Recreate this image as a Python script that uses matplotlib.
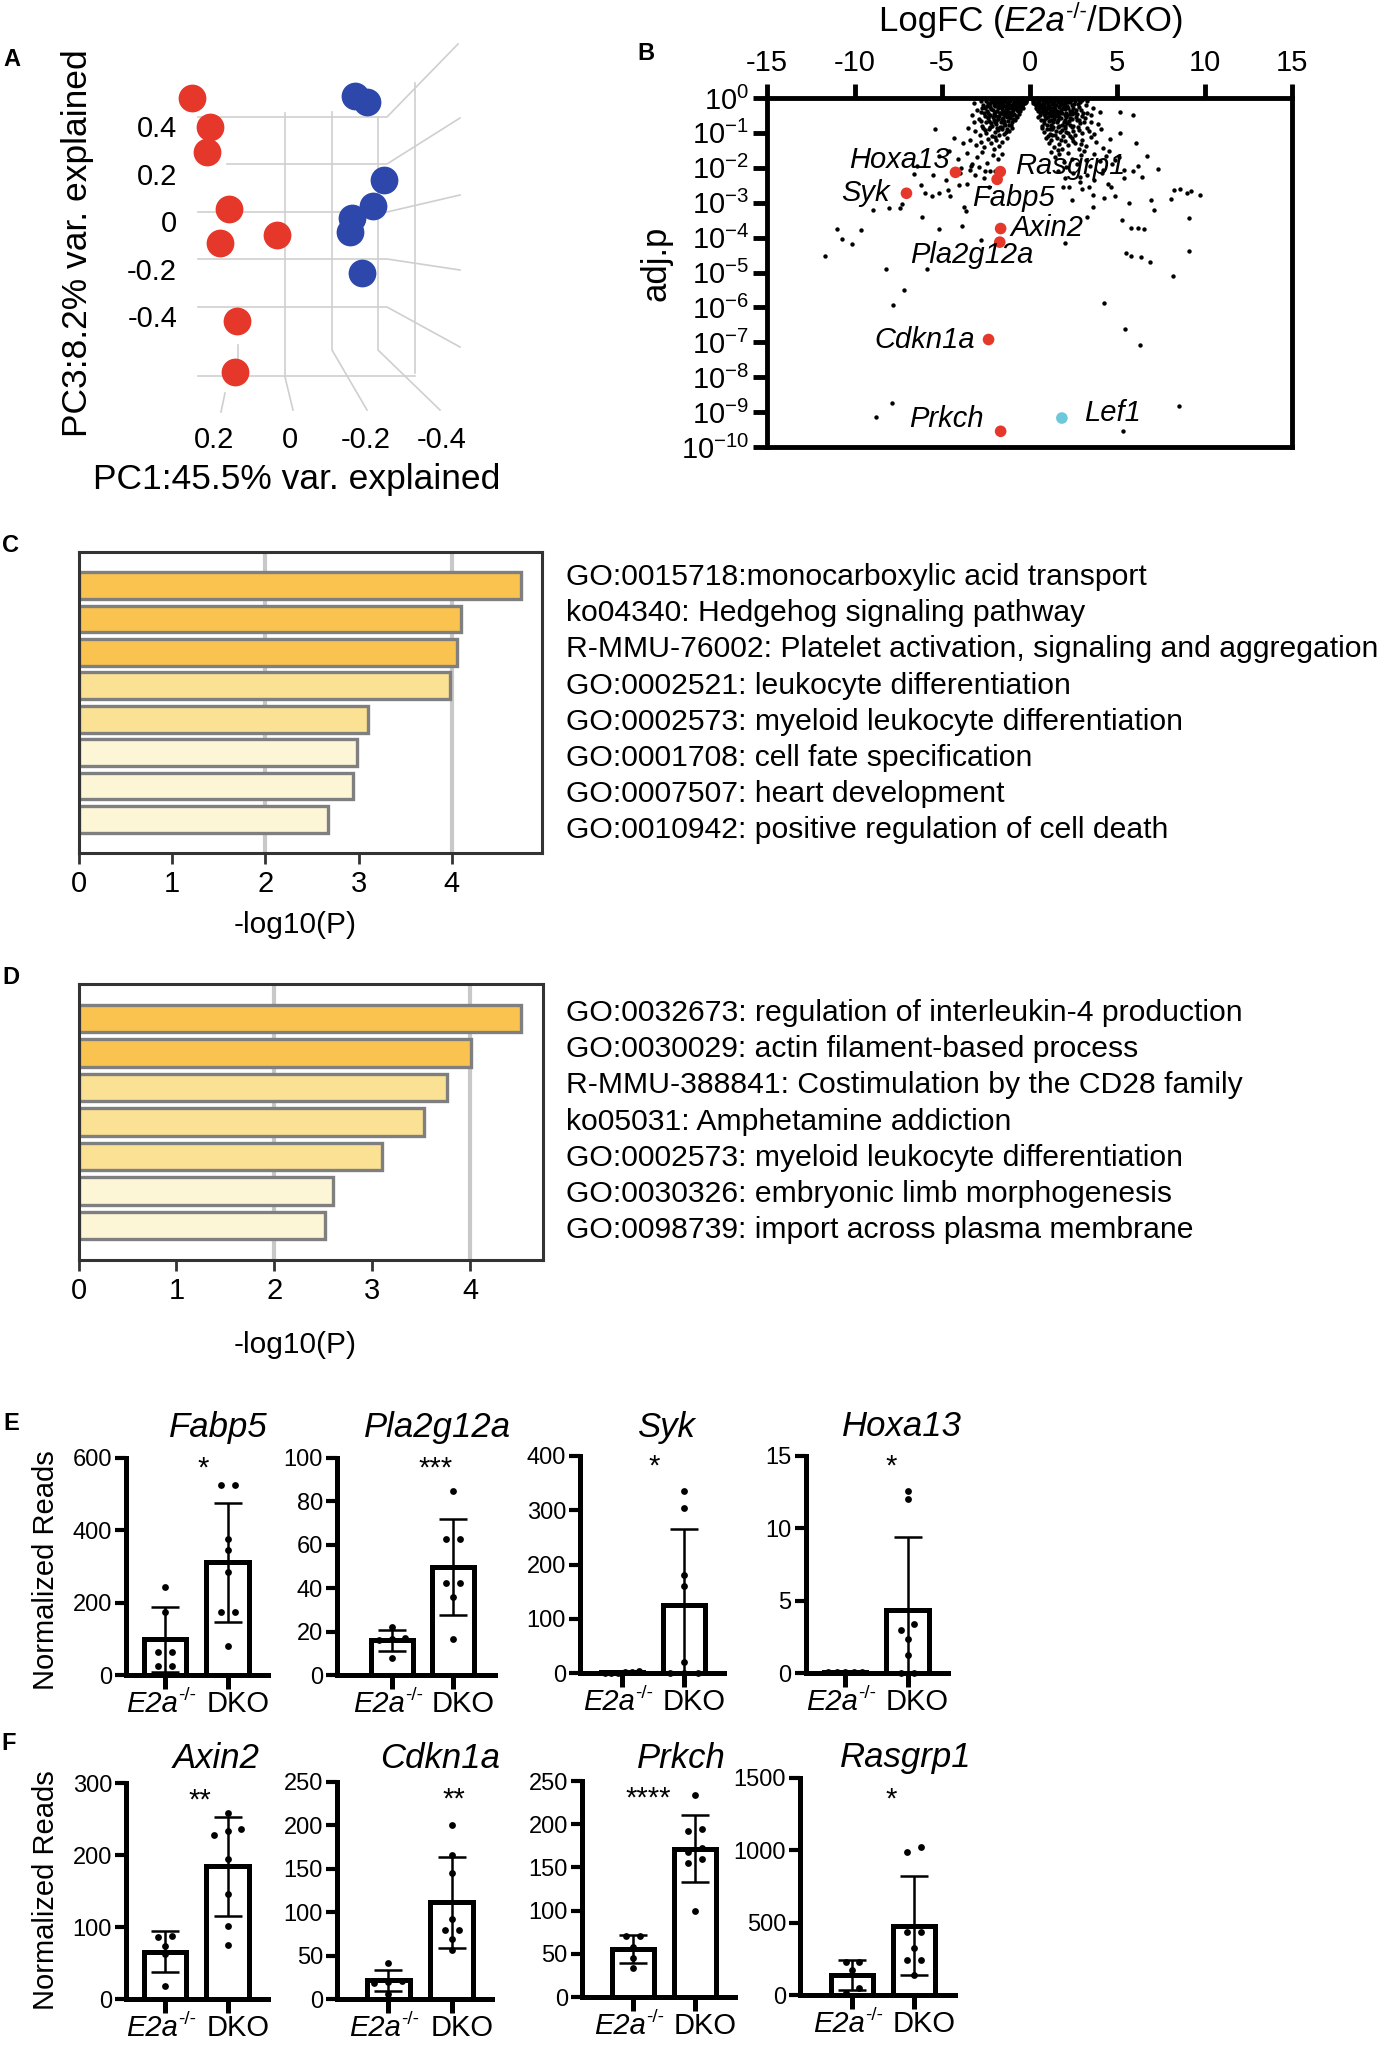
#!/usr/bin/env python3
import numpy as np
import matplotlib
matplotlib.use('Agg')
import matplotlib.pyplot as plt
from matplotlib.ticker import NullLocator

plt.rcParams['font.family'] = ['Liberation Sans', 'DejaVu Sans']
plt.rcParams['mathtext.fontset'] = 'custom'
plt.rcParams['mathtext.rm'] = 'Liberation Sans'
plt.rcParams['mathtext.it'] = 'Liberation Sans:italic'
plt.rcParams['mathtext.bf'] = 'Liberation Sans:bold'
plt.rcParams['axes.unicode_minus'] = False

# ---------------- data ----------------
# A: PCA scores
pc1_red = [0.258, 0.212, 0.220, 0.162, 0.185, 0.036, 0.140, 0.146]
pc3_red = [0.519, 0.397, 0.294, 0.053, -0.089, -0.057, -0.419, -0.635]
pc1_blue = [-0.170, -0.201, -0.246, -0.219, -0.162, -0.157, -0.188]
pc3_blue = [0.528, 0.504, 0.175, 0.065, 0.013, -0.043, -0.218]

# B: volcano, highlighted genes (logFC, log10 adj.p)
vol_genes = ['Hoxa13', 'Rasgrp1', 'Fabp5', 'Syk', 'Axin2', 'Pla2g12a', 'Cdkn1a', 'Prkch', 'Lef1']
vol_gene_lfc = [-4.23, -1.67, -1.85, -7.03, -1.65, -1.70, -2.34, -1.65, 1.85]
vol_gene_logp = [-2.13, -2.11, -2.33, -2.73, -3.74, -4.13, -6.92, -9.55, -9.17]

# B: all other genes (logFC, log10 adj.p)
bg_points = [
    # left cloud
    (-0.15, -0.02), (-0.3, -0.05), (-0.45, -0.01), (-0.6, -0.08), (-0.75, -0.03), (-0.9, -0.12),
    (-1.05, -0.04), (-1.2, -0.09), (-1.35, -0.02), (-1.5, -0.14), (-1.65, -0.06), (-1.8, -0.18),
    (-1.95, -0.03), (-2.1, -0.11), (-2.3, -0.2), (-0.25, -0.15), (-0.5, -0.2), (-0.7, -0.18),
    (-0.85, -0.24), (-1.1, -0.2), (-1.3, -0.25), (-1.55, -0.22), (-1.75, -0.1), (-2.0, -0.24),
    (-2.5, -0.08), (-0.4, -0.3), (-0.55, -0.38), (-0.72, -0.33), (-0.88, -0.45), (-1.0, -0.3),
    (-1.15, -0.41), (-1.28, -0.35), (-1.42, -0.48), (-1.58, -0.32), (-1.7, -0.44), (-1.85, -0.36),
    (-2.02, -0.47), (-2.18, -0.31), (-2.35, -0.42), (-2.55, -0.29), (-2.8, -0.4), (-0.98, -0.48),
    (-1.62, -0.27), (-2.25, -0.5), (-3.0, -0.35), (-0.7, -0.55), (-0.85, -0.62), (-1.0, -0.7),
    (-1.12, -0.58), (-1.25, -0.66), (-1.38, -0.78), (-1.5, -0.56), (-1.63, -0.7), (-1.78, -0.6),
    (-1.9, -0.75), (-2.05, -0.63), (-2.2, -0.72), (-2.35, -0.57), (-2.5, -0.68), (-2.7, -0.79),
    (-2.9, -0.6), (-3.2, -0.7), (-1.45, -0.65), (-2.12, -0.8), (-1.2, -0.76), (-1.0, -0.85),
    (-1.15, -0.95), (-1.3, -0.88), (-1.48, -1.02), (-1.6, -0.9), (-1.75, -1.05), (-1.88, -0.86),
    (-2.0, -0.98), (-2.15, -1.08), (-2.3, -0.9), (-2.48, -1.0), (-2.65, -0.87), (-2.85, -1.06),
    (-3.1, -0.95), (-3.5, -0.85), (-1.68, -0.82), (-1.3, -1.15), (-1.55, -1.25), (-1.72, -1.38),
    (-1.9, -1.2), (-2.05, -1.45), (-2.2, -1.3), (-2.4, -1.18), (-2.6, -1.4), (-2.8, -1.25),
    (-3.05, -1.35), (-3.4, -1.2), (-3.8, -1.3), (-4.3, -1.15), (-2.0, -1.12), (-1.55, -1.6),
    (-1.8, -1.75), (-2.1, -1.62), (-2.45, -1.85), (-2.7, -1.55), (-3.0, -1.7), (-3.3, -1.9),
    (-3.6, -1.58), (-4.1, -1.75), (-4.6, -1.52), (-5.2, -1.65), (-2.9, -1.98), (-3.9, -2.0),
    (-2.0, -2.1), (-2.6, -2.3), (-3.1, -2.2), (-3.6, -2.45), (-4.0, -2.15), (-4.8, -2.35),
    (-5.5, -2.2), (-6.2, -2.5), (-2.3, -2.55), (-3.4, -2.05),
    (-0.2, -0.08), (-0.35, -0.1), (-0.5, -0.04), (-0.65, -0.14), (-0.8, -0.07), (-0.95, -0.18),
    (-1.1, -0.1), (-1.25, -0.14), (-1.4, -0.08), (-1.55, -0.02), (-1.7, -0.15), (-1.85, -0.05),
    (-2.0, -0.13), (-2.2, -0.06), (-2.4, -0.13), (-2.65, -0.2), (-0.28, -0.02), (-0.42, -0.22),
    (-0.62, -0.27), (-0.78, -0.12), (-0.92, -0.35), (-1.08, -0.27), (-1.22, -0.45), (-1.36, -0.3),
    (-1.5, -0.38), (-1.66, -0.42), (-1.8, -0.28), (-1.95, -0.4), (-2.1, -0.35), (-2.28, -0.26),
    (-2.45, -0.36), (-2.62, -0.44), (-0.6, -0.45), (-0.8, -0.52), (-0.95, -0.6), (-1.1, -0.5),
    (-1.3, -0.55), (-1.45, -0.72), (-1.6, -0.6), (-1.75, -0.52), (-1.9, -0.66), (-2.1, -0.55),
    (-2.3, -0.65), (-2.55, -0.52), (-2.75, -0.66), (-1.05, -0.78), (-1.35, -0.98), (-1.55, -0.82),
    (-1.82, -0.92), (-2.25, -0.82), (-2.55, -0.93), (-1.98, -0.7),
    (-0.22, -0.12), (-0.38, -0.18), (-0.52, -0.12), (-0.68, -0.22), (-0.82, -0.16), (-0.98, -0.24),
    (-1.12, -0.06), (-1.28, -0.18), (-1.42, -0.22), (-1.58, -0.1), (-1.72, -0.26), (-1.88, -0.12),
    (-2.05, -0.19), (-2.25, -0.14), (-2.45, -0.24), (-2.75, -0.1), (-3.2, -0.15), (-0.48, -0.28),
    (-0.66, -0.36), (-0.84, -0.3), (-1.02, -0.4), (-1.18, -0.3), (-1.34, -0.4), (-1.52, -0.45),
    (-1.9, -0.52), (-2.4, -0.55), (-2.7, -0.3), (-3.3, -0.5),
    # right cloud
    (0.12, -0.02), (0.25, -0.06), (0.4, -0.01), (0.55, -0.1), (0.7, -0.04), (0.85, -0.14),
    (1.0, -0.02), (1.15, -0.08), (1.3, -0.17), (1.45, -0.05), (1.6, -0.12), (1.75, -0.21),
    (1.9, -0.07), (2.05, -0.15), (2.2, -0.03), (2.4, -0.19), (2.6, -0.09), (0.3, -0.18),
    (0.5, -0.22), (0.78, -0.24), (1.08, -0.2), (1.38, -0.25), (1.68, -0.02), (2.15, -0.24),
    (2.9, -0.12), (3.2, -0.2), (0.35, -0.3), (0.5, -0.38), (0.65, -0.28), (0.8, -0.45),
    (0.95, -0.33), (1.1, -0.42), (1.25, -0.3), (1.4, -0.48), (1.55, -0.36), (1.7, -0.27),
    (1.85, -0.44), (2.0, -0.32), (2.15, -0.5), (2.3, -0.38), (2.5, -0.28), (2.7, -0.46),
    (2.95, -0.34), (3.3, -0.42), (0.9, -0.26), (1.6, -0.5), (2.4, -0.47), (3.6, -0.3),
    (0.5, -0.55), (0.65, -0.62), (0.8, -0.72), (0.95, -0.57), (1.1, -0.66), (1.25, -0.78),
    (1.4, -0.6), (1.55, -0.7), (1.7, -0.55), (1.85, -0.76), (2.0, -0.63), (2.15, -0.71),
    (2.3, -0.56), (2.5, -0.8), (2.7, -0.64), (2.9, -0.73), (3.15, -0.58), (3.5, -0.68),
    (3.9, -0.75), (1.3, -0.52), (2.05, -0.79), (0.72, -0.79), (0.7, -0.85), (0.85, -0.96),
    (1.0, -0.88), (1.15, -1.02), (1.3, -0.9), (1.45, -1.07), (1.6, -0.84), (1.75, -0.98),
    (1.9, -1.08), (2.05, -0.87), (2.2, -0.99), (2.4, -0.83), (2.6, -1.05), (2.8, -0.92),
    (3.0, -1.0), (3.3, -0.86), (3.7, -1.04), (4.1, -0.9), (1.22, -0.81), (2.32, -1.1),
    (0.95, -1.15), (1.1, -1.28), (1.25, -1.2), (1.4, -1.4), (1.55, -1.16), (1.7, -1.32),
    (1.85, -1.45), (2.0, -1.22), (2.2, -1.36), (2.4, -1.14), (2.6, -1.3), (2.8, -1.47),
    (3.0, -1.2), (3.25, -1.38), (3.5, -1.12), (3.8, -1.26), (4.2, -1.42), (4.6, -1.18),
    (1.62, -1.48), (2.95, -1.33), (1.2, -1.55), (1.45, -1.7), (1.7, -1.6), (1.95, -1.82),
    (2.2, -1.58), (2.45, -1.74), (2.7, -1.9), (2.95, -1.62), (3.2, -1.78), (3.45, -1.95),
    (3.7, -1.6), (4.0, -1.8), (4.35, -1.65), (4.7, -1.9), (5.1, -1.7), (2.1, -1.98),
    (3.1, -1.52), (1.6, -2.1), (2.0, -2.3), (2.5, -2.15), (2.9, -2.4), (3.3, -2.2),
    (3.7, -2.35), (4.2, -2.05), (4.5, -2.45), (5.4, -2.3), (5.9, -2.1), (1.9, -2.55), (3.0, -2.6),
    (0.18, -0.1), (0.32, -0.03), (0.45, -0.14), (0.6, -0.02), (0.75, -0.1), (0.9, -0.06),
    (1.05, -0.15), (1.2, -0.03), (1.35, -0.1), (1.5, -0.2), (1.65, -0.08), (1.8, -0.14),
    (1.95, -0.22), (2.1, -0.06), (2.3, -0.11), (2.5, -0.04), (2.75, -0.16), (3.0, -0.07),
    (0.4, -0.24), (0.58, -0.3), (0.72, -0.2), (0.86, -0.36), (1.0, -0.29), (1.15, -0.35),
    (1.3, -0.42), (1.45, -0.31), (1.6, -0.4), (1.78, -0.34), (1.92, -0.29), (2.08, -0.42),
    (2.22, -0.3), (2.4, -0.36), (2.6, -0.42), (2.8, -0.26), (3.05, -0.44), (0.6, -0.48),
    (0.75, -0.4), (0.9, -0.52), (1.05, -0.55), (1.2, -0.62), (1.35, -0.7), (1.5, -0.52),
    (1.65, -0.64), (1.8, -0.58), (1.95, -0.7), (2.1, -0.55), (2.25, -0.66), (2.45, -0.6),
    (2.65, -0.54), (2.85, -0.62), (3.1, -0.7), (0.8, -0.62), (1.0, -0.78), (1.15, -0.9),
    (1.35, -0.82), (1.52, -0.95), (1.7, -0.8), (1.88, -0.92), (2.1, -0.96), (2.3, -0.78),
    (2.5, -0.95), (2.75, -0.82), (3.4, -0.95), (1.05, -1.08), (1.3, -1.05), (1.78, -1.2),
    (2.5, -1.22),
    (0.2, -0.14), (0.36, -0.2), (0.48, -0.06), (0.62, -0.16), (0.8, -0.18), (0.95, -0.1),
    (1.12, -0.24), (1.28, -0.06), (1.42, -0.14), (1.58, -0.04), (1.72, -0.1), (1.88, -0.18),
    (2.02, -0.04), (2.18, -0.12), (2.35, -0.06), (2.55, -0.16), (2.8, -0.06), (3.3, -0.1),
    (0.45, -0.32), (0.62, -0.4), (0.78, -0.32), (0.98, -0.44), (1.18, -0.5), (1.35, -0.36),
    (1.52, -0.44), (1.75, -0.42), (2.0, -0.48), (2.3, -0.46), (2.65, -0.34), (3.0, -0.52),
    (3.5, -0.5), (4.0, -0.4),
    # scattered genes
    (-11.68, -4.53), (-10.99, -3.74), (-9.64, -3.78), (-10.74, -4.04), (-10.12, -4.19),
    (-8.21, -4.89), (-5.86, -4.89), (-7.19, -5.51), (-7.80, -5.92), (-7.88, -8.74),
    (-8.75, -9.15), (-5.17, -3.75), (-3.87, -3.68), (-2.80, -4.06), (-6.14, -3.40),
    (-8.97, -3.21), (-8.03, -3.16), (-7.39, -3.16), (-7.29, -3.03), (-5.55, -2.82),
    (-5.17, -2.73), (-4.66, -2.65), (-4.53, -2.82), (-5.99, -2.73), (-6.58, -2.17),
    (-6.45, -1.96), (-5.40, -0.89), (-3.64, -3.25), (-4.02, -2.49), (-3.33, -1.96),
    (-2.54, -2.08), (-2.23, -2.08), (-3.77, -3.11), (2.05, -4.16), (4.27, -5.87),
    (5.45, -6.61), (6.34, -7.08), (5.37, -9.55), (8.56, -8.83), (8.18, -5.10),
    (9.13, -4.37), (9.13, -3.44), (5.30, -3.51), (5.81, -3.73), (6.19, -3.73),
    (6.55, -3.75), (5.50, -4.43), (5.81, -4.52), (6.37, -4.55), (6.88, -4.69),
    (3.31, -3.40), (7.13, -3.21), (6.96, -2.92), (8.23, -2.65), (8.62, -2.61),
    (9.00, -2.73), (9.76, -2.79), (9.25, -2.66), (8.10, -2.90), (6.70, -1.66),
    (7.34, -2.04), (6.19, -1.96), (6.06, -1.29), (5.93, -0.48), (5.17, -0.41),
    (5.17, -0.99), (4.66, -2.54), (3.64, -2.78), (4.27, -2.87), (4.91, -2.82),
    (5.68, -3.01), (2.41, -2.92), (3.64, -3.11), (3.38, -2.54), (2.23, -2.54),
    (2.87, -2.25), (4.15, -2.15), (6.45, -2.25), (5.42, -2.06), (4.91, -1.77), (4.53, -1.53),
]

# C / D: enrichment terms
terms_c = ['GO:0015718:monocarboxylic acid transport',
           'ko04340: Hedgehog signaling pathway',
           'R-MMU-76002: Platelet activation, signaling and aggregation',
           'GO:0002521: leukocyte differentiation',
           'GO:0002573: myeloid leukocyte differentiation',
           'GO:0001708: cell fate specification',
           'GO:0007507: heart development',
           'GO:0010942: positive regulation of cell death']
logp_c = [4.74, 4.10, 4.05, 3.98, 3.10, 2.98, 2.94, 2.67]
terms_d = ['GO:0032673: regulation of interleukin-4 production',
           'GO:0030029: actin filament-based process',
           'R-MMU-388841: Costimulation by the CD28 family',
           'ko05031: Amphetamine addiction',
           'GO:0002573: myeloid leukocyte differentiation',
           'GO:0030326: embryonic limb morphogenesis',
           'GO:0098739: import across plasma membrane']
logp_d = [4.52, 4.01, 3.77, 3.53, 3.10, 2.60, 2.52]

# E / F: normalized reads per sample
fabp5_e2a = [242, 175, 63, 63, 25, 25]
fabp5_dko = [526, 526, 376, 347, 285, 175, 175, 81]
pla2g12a_e2a = [22, 16.5, 17, 16, 8]
pla2g12a_dko = [85, 62.6, 62.6, 42.6, 42.6, 36, 16.6]
syk_e2a = [0.5, 3, 1, 0.5, 0.5, 1]
syk_dko = [336, 305, 181, 160, 20, 0, 0, 0]
hoxa13_e2a = [0.05, 0.05, 0.05, 0.05, 0.05]
hoxa13_dko = [12.6, 12.0, 3.0, 3.36, 2.37, 1.27, 0, 0]
axin2_e2a = [88, 86, 73, 62, 18]
axin2_dko = [259, 236, 234, 227.5, 195, 146, 102, 75]
cdkn1a_e2a = [41, 20, 21, 19, 6]
cdkn1a_dko = [201, 166, 145, 92, 80, 80, 69, 57]
prkch_e2a = [71, 71, 58, 45, 33]
prkch_dko = [234, 194, 192, 172, 168, 160, 155, 99]
rasgrp1_e2a = [230, 228, 170, 50, 12]
rasgrp1_dko = [1024, 989, 437, 437, 322, 241.5, 241.5, 138]

# ---------------- figure ----------------
W, H = 1382, 2045
fig = plt.figure(figsize=(W / 100, H / 100), dpi=100)
renderer = fig.canvas.get_renderer()


def box(left, top, right, bottom):
    return fig.add_axes([left / W, 1 - bottom / H, (right - left) / W, (bottom - top) / H])


def ftext(x, y, s, **kw):
    kw.setdefault('ha', 'center')
    kw.setdefault('va', 'center')
    return fig.text(x / W, 1 - y / H, s, **kw)


def rich(x, y, pieces):
    # pieces of (text, size, style, rise in px), centred at x, baseline y
    placed = []
    for s, fs, st, rise in pieces:
        t = fig.text(0, 0, s, fontsize=fs, style=st, ha='left', va='baseline')
        placed.append((t, rise, t.get_window_extent(renderer).width))
    x0 = x - sum(p[2] for p in placed) / 2
    for t, rise, w in placed:
        t.set_position((x0 / W, 1 - (y - rise) / H))
        x0 += w


# overlay in pixel units for decoration
bg = fig.add_axes([0, 0, 1, 1], zorder=0)
bg.set_xlim(0, W)
bg.set_ylim(H, 0)
bg.axis('off')

for lab, (x, y) in zip('ABCDEF', [(12, 60), (646, 53), (11, 545), (11, 977), (11, 1423), (9, 1743)]):
    ftext(x, y, lab, fontsize=17, fontweight='bold')

# ---- A ----
a_grid = [
    [(198, 117), (387, 117), (458, 44)],
    [(227, 164), (387, 164), (460, 118)],
    [(198, 212), (387, 212), (460, 195)],
    [(198, 259), (387, 259), (460, 270)],
    [(198, 307), (387, 307), (460, 347)],
    [(198, 376), (415, 376)],
    [(285, 113), (285, 377), (293, 410)],
    [(332, 112), (332, 350), (367, 410)],
    [(378, 117), (378, 350), (440, 410)],
    [(415, 83), (415, 373)],
    [(238, 345), (238, 380)],
    [(225, 393), (221, 412)],
]
for seg in a_grid:
    xs, ys = zip(*seg)
    bg.plot(xs, ys, color='#cfcfcf', lw=1.2)

axA = box(180, 40, 470, 420)
axA.patch.set_visible(False)
axA.scatter(pc1_red, pc3_red, s=400, color='#E5372A', linewidths=0, zorder=3, clip_on=False)
axA.scatter(pc1_blue, pc3_blue, s=400, color='#2D47AA', linewidths=0, zorder=3, clip_on=False)
axA.set_xlim(0.2906, -0.4735)
axA.set_ylim(-0.836, 0.764)
axA.set_xticks([0.2, 0, -0.2, -0.4])
axA.set_xticklabels(['0.2', '0', '-0.2', '-0.4'])
axA.set_yticks([0.4, 0.2, 0, -0.2, -0.4])
axA.set_yticklabels(['0.4', '0.2', '0', '-0.2', '-0.4'])
for s in axA.spines.values():
    s.set_visible(False)
axA.tick_params(length=0, labelsize=21)
axA.tick_params(axis='x', pad=4)
axA.tick_params(axis='y', pad=2)
ftext(78, 243, 'PC3:8.2% var. explained', fontsize=25.5, rotation=90)
ftext(297, 480, 'PC1:45.5% var. explained', fontsize=25.5)

# ---- B ----
axB = box(767, 98, 1292, 447)
bg_lfc = [p[0] for p in bg_points]
bg_logp = [p[1] for p in bg_points]
axB.set_yscale('log')
axB.scatter(bg_lfc, 10.0 ** np.array(bg_logp), s=10, color='black', linewidths=0, zorder=2, clip_on=False)
gene_colors = ['#E5372A'] * 8 + ['#6CC8DA']
axB.scatter(vol_gene_lfc, 10.0 ** np.array(vol_gene_logp), s=70, color=gene_colors, linewidths=0, zorder=3)
lab_pos = {'Hoxa13': (-4.53, -1.77, 'right'), 'Rasgrp1': (-0.83, -1.96, 'left'),
           'Syk': (-7.98, -2.73, 'right'), 'Fabp5': (-3.26, -2.87, 'left'),
           'Axin2': (-1.09, -3.73, 'left'), 'Pla2g12a': (-6.83, -4.50, 'left'),
           'Cdkn1a': (-3.13, -6.92, 'right'), 'Prkch': (-2.62, -9.19, 'right'),
           'Lef1': (3.13, -9.04, 'left')}
for g in vol_genes:
    x, y, ha = lab_pos[g]
    axB.text(x, 10.0 ** y, g, fontsize=21, style='italic', ha=ha, va='center', zorder=4)
axB.set_xlim(-15, 15)
axB.set_ylim(1e-10, 1)
axB.xaxis.tick_top()
axB.set_xticks(range(-15, 16, 5))
axB.set_xticklabels([str(v) for v in range(-15, 16, 5)])
axB.set_yticks([10.0 ** -k for k in range(11)])
axB.set_yticklabels([r'$10^{%d}$' % (-k) for k in range(11)])
axB.yaxis.set_minor_locator(NullLocator())
for s in axB.spines.values():
    s.set_linewidth(3.5)
axB.tick_params(width=3.5, length=10, labelsize=21, direction='out')
axB.tick_params(axis='x', pad=5)
axB.tick_params(axis='y', pad=3)
rich(1031, 31, [('LogFC (', 25, 'normal', 0), ('E2a', 25, 'italic', 0),
                ('-/-', 16, 'normal', 13), ('/DKO)', 25, 'normal', 0)])
ftext(656, 263, 'adj.p', fontsize=25, rotation=90)


# ---- C / D ----
def enrich_panel(rect, terms, vals, colors, xmax, text_y0, label_y):
    ax = box(*rect)
    n = len(vals)
    ax.axvline(2, color='#c8c8c8', lw=3, zorder=1)
    ax.axvline(4, color='#c8c8c8', lw=3, zorder=1)
    ax.barh(range(n), vals, height=0.8, color=colors, edgecolor='#7f7f7f', linewidth=2.4, zorder=2)
    ax.set_ylim(n, -1)
    ax.set_xlim(0, xmax)
    ax.set_yticks([])
    ax.set_xticks([0, 1, 2, 3, 4])
    for s in ax.spines.values():
        s.set_linewidth(2.2)
        s.set_color('#333333')
    ax.tick_params(axis='x', length=8, width=2, color='#333333', labelsize=21, pad=4)
    ftext(294.7, label_y, '-log10(P)', fontsize=21.5)
    for i, t in enumerate(terms):
        ftext(566, text_y0 + i * 36.2, t, fontsize=21.7, ha='left')
    return ax


dark, mid, light = '#FAC350', '#FBE193', '#FDF6D6'
enrich_panel((78.5, 552, 541.5, 853), terms_c, logp_c,
             [dark, dark, dark, mid, mid, light, light, light], 4.96, 577, 925)
enrich_panel((78.5, 984, 543.4, 1260), terms_d, logp_d,
             [dark, dark, mid, mid, mid, light, light], 4.75, 1013, 1345)


# ---- E / F ----
def swarm(vals, ymax):
    vals = np.asarray(vals, float)
    order = np.argsort(vals)
    sv = vals[order]
    offs = np.zeros(len(vals))
    tol = 0.035 * ymax
    start = 0
    for k in range(1, len(vals) + 1):
        if k == len(vals) or sv[k] - sv[start] > tol:
            idx = order[start:k]
            n = len(idx)
            step = 0.22 if n < 3 else min(0.22, 0.55 / (n - 1))
            offs[idx] = (np.arange(n) - (n - 1) / 2) * step
            start = k
    return offs


def bar_panel(lay, e2a, dko, ymax, yticks, gene, stars, star_x, star_frac):
    spine_x, e2a_x, dko_x, right_x, top_y, bot_y, title_x, title_y = lay
    sp = dko_x - e2a_x
    ax = box(spine_x, top_y, right_x, bot_y)
    ax.set_xlim((spine_x - e2a_x) / sp, (right_x - e2a_x) / sp)
    ax.set_ylim(0, ymax)
    groups = [np.asarray(e2a, float), np.asarray(dko, float)]
    means = [g.mean() for g in groups]
    sds = [g.std(ddof=1) for g in groups]
    ax.bar([0, 1], means, width=0.68, color='white', edgecolor='black', linewidth=3.6, zorder=2)
    ax.errorbar([0, 1], means, yerr=sds, fmt='none', ecolor='black', elinewidth=1.8,
                capsize=10, capthick=1.8, zorder=3)
    for i, g in enumerate(groups):
        ax.scatter(i + swarm(g, ymax), g, s=24, color='black', linewidths=0, zorder=4, clip_on=False)
    ax.set_yticks(yticks)
    ax.set_xticks([0, 1])
    ax.set_xticklabels(['', ''])
    for k in ('top', 'right'):
        ax.spines[k].set_visible(False)
    for k in ('left', 'bottom'):
        ax.spines[k].set_linewidth(3.6)
    ax.tick_params(axis='y', length=8, width=3, labelsize=17, pad=2)
    ax.tick_params(axis='x', length=10, width=3.6)
    ax.text(star_x, star_frac * ymax, stars, fontsize=21, ha='center', va='center', zorder=5)
    ftext(title_x, title_y, gene, fontsize=25, style='italic')
    base = bot_y + 37
    rich(e2a_x - 4, base, [('E2a', 21, 'italic', 0), ('-/-', 13.5, 'normal', 12)])
    ftext(dko_x + 10, base, 'DKO', fontsize=21, va='baseline')
    return ax


bar_panel((126, 165, 227.7, 268, 1458, 1675, 218.7, 1428), fabp5_e2a, fabp5_dko, 600,
          [0, 200, 400, 600], 'Fabp5', '*', 0.61, 0.95)
bar_panel((337, 392, 453, 494.6, 1458, 1675, 437.5, 1428), pla2g12a_e2a, pla2g12a_dko, 100,
          [0, 20, 40, 60, 80, 100], 'Pla2g12a', '***', 0.71, 0.95)
bar_panel((580, 621.7, 684, 724, 1456, 1673, 665.7, 1427), syk_e2a, syk_dko, 400,
          [0, 100, 200, 300, 400], 'Syk', '*', 0.52, 0.95)
bar_panel((805.6, 845.3, 907.6, 948, 1456, 1673, 901.8, 1427), hoxa13_e2a, hoxa13_dko, 15,
          [0, 5, 10, 15], 'Hoxa13', '*', 0.73, 0.95)
bar_panel((126, 165.2, 227.7, 268, 1783, 1999, 216.5, 1759), axin2_e2a, axin2_dko, 300,
          [0, 100, 200, 300], 'Axin2', '**', 0.56, 0.92)
bar_panel((337, 388.4, 451.8, 492.4, 1782, 1999, 439.7, 1759), cdkn1a_e2a, cdkn1a_dko, 250,
          [0, 50, 100, 150, 200, 250], 'Cdkn1a', '**', 1.04, 0.92)
bar_panel((581.7, 632.7, 695, 735, 1781, 1997, 681.7, 1759), prkch_e2a, prkch_dko, 250,
          [0, 50, 100, 150, 200, 250], 'Prkch', '****', 0.25, 0.92)
bar_panel((800, 852.4, 914.2, 954.8, 1778, 1995, 906, 1758), rasgrp1_e2a, rasgrp1_dko, 1500,
          [0, 500, 1000, 1500], 'Rasgrp1', '*', 0.62, 0.90)

ftext(46, 1570, 'Normalized Reads', fontsize=21, rotation=90)
ftext(46, 1890, 'Normalized Reads', fontsize=21, rotation=90)

fig.savefig('out.png', dpi=100)
